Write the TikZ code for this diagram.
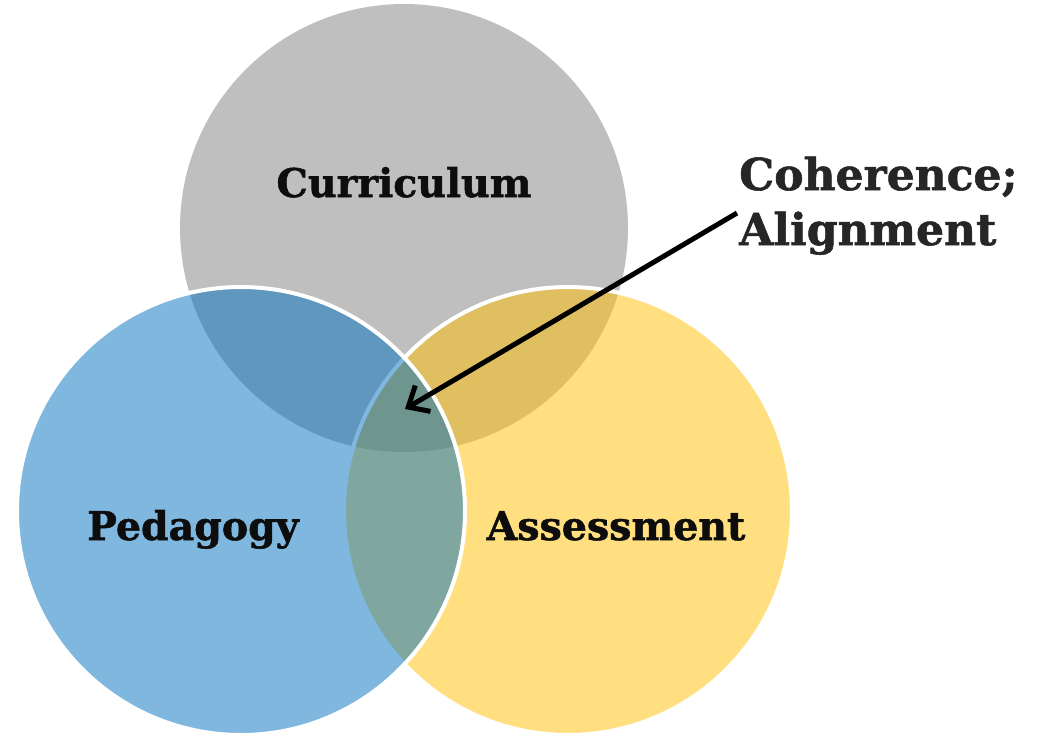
\documentclass[tikz,border=0pt]{standalone}
\usepackage{fontspec}
\setmainfont{DejaVu Serif}
\newfontfamily\heavyfont[BoldFeatures={FakeBold=1.3}]{DejaVu Serif}
\usetikzlibrary{arrows.meta}
\definecolor{cgray}{HTML}{7F7F7F}
\definecolor{cblue}{HTML}{0070C0}
\definecolor{cyellow}{HTML}{FFC000}
\definecolor{ctext}{HTML}{0D0D0D}
\definecolor{ctextb}{HTML}{262626}
\tikzset{
  venn/.style={circle, minimum size=448pt, inner sep=0pt, fill opacity=0.5},
  vennline/.style={venn, draw=white, line width=4pt},
  lbl/.style={text=ctext, font=\heavyfont\fontsize{39.5}{46}\selectfont\bfseries, inner sep=0pt},
  callout/.style={text=ctextb, font=\heavyfont\fontsize{44}{52}\selectfont\bfseries, inner sep=0pt},
  pointer/.style={line width=5pt, -{Straight Barb[length=17pt,width=30pt]}}
}
\begin{document}
\begin{tikzpicture}[x=1pt,y=-1pt]
\useasboundingbox (0,0) rectangle (1045,737);
\node[venn, fill=cgray] (cur) at (404,228) {};
\node[vennline, fill=cyellow] (ass) at (568,511) {};
\node[vennline, fill=cblue] (ped) at (241,511) {};
\node[lbl, anchor=base] (tcur) at (404,197) {Curriculum};
\node[lbl, anchor=base] (tped) at (193,540) {Pedagogy};
\node[lbl, anchor=base] (tass) at (616,540) {Assessment};
\node[callout, anchor=base west] (coh1) at (739,190) {Coherence;};
\node[callout, anchor=base west] (coh2) at (739,245) {Alignment};
\coordinate (as) at (737,213);
\coordinate (ae) at (405,409);
\draw[pointer] (as) -- (ae);
\end{tikzpicture}
\end{document}
